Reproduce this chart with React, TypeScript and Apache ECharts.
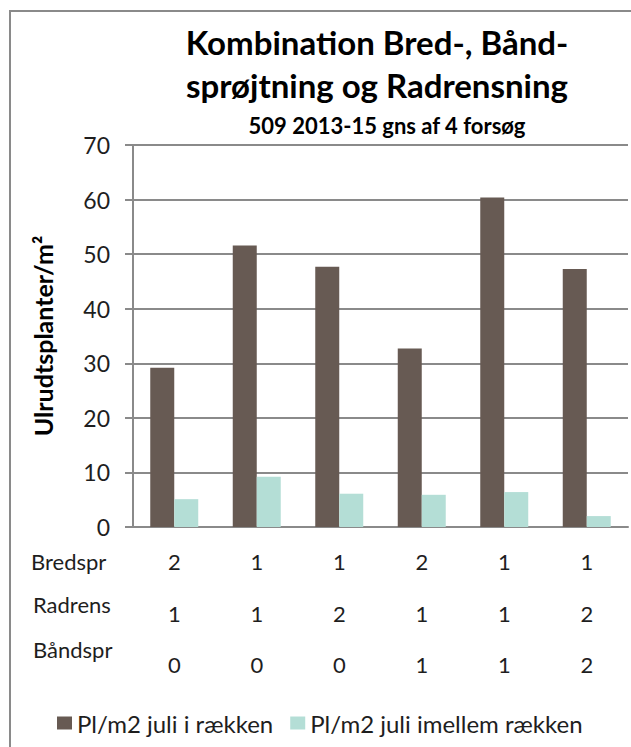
import React, { useEffect, useRef } from "react";
import * as echarts from "echarts";

// Treatment combinations (one column per trial treatment)
const bredspr = ["2", "1", "1", "2", "1", "1"];
const radrens = ["1", "1", "2", "1", "1", "2"];
const baandspr = ["0", "0", "0", "1", "1", "2"];
const rowLabels = ["Bredspr", "Radrens", "Båndspr"];

// Weeds per m² in July
const iRaekken = [29.2, 51.6, 47.7, 32.7, 60.4, 47.3];
const imellemRaekken = [5.1, 9.2, 6.1, 5.9, 6.4, 2.0];

const seriesNames = ["Pl/m2 juli i rækken", "Pl/m2 juli imellem rækken"];
const titleLines = ["Kombination Bred-, Bånd-", "sprøjtning og Radrensning"];
const subTitle = "509 2013-15 gns af 4 forsøg";
const yName = "Ulrudtsplanter/m²";

const FONT = "Lato, 'Open Sans', sans-serif";
const DARK = "#675a53";
const TEAL = "#b4ded6";
const GRID_COLOR = "#8a8a8a";
const TEXT = "#1e1e1e";

export default function App() {
  const ref = useRef<HTMLDivElement>(null);

  useEffect(() => {
    if (!ref.current) return;
    const chart = echarts.init(ref.current, undefined, { renderer: "svg" });
    const categories = bredspr.map((b, i) => `${b}\n${radrens[i]}\n${baandspr[i]}`);
    const rowPos = [
      { x: 31, y: 561 },
      { x: 33, y: 604 },
      { x: 33, y: 649 },
    ];
    const titleY = [42, 85];

    chart.setOption({
      animation: false,
      backgroundColor: "#ffffff",
      textStyle: { fontFamily: FONT },
      grid: { left: 133, right: 3, top: 145, bottom: 220, containLabel: false },
      legend: {
        top: 706,
        left: 52,
        itemWidth: 15,
        itemHeight: 13,
        itemGap: 17,
        icon: "rect",
        textStyle: { fontFamily: FONT, fontSize: 24, color: TEXT },
        data: seriesNames,
      },
      xAxis: {
        type: "category",
        data: categories,
        axisTick: { show: false },
        axisLine: { lineStyle: { color: GRID_COLOR, width: 2 } },
        axisLabel: {
          fontFamily: FONT,
          fontSize: 22,
          lineHeight: 51.5,
          color: TEXT,
          margin: 9,
          interval: 0,
        },
      },
      yAxis: {
        type: "value",
        min: 0,
        max: 70,
        interval: 10,
        name: yName,
        nameLocation: "middle",
        nameGap: 78,
        nameTextStyle: { fontFamily: FONT, fontSize: 25, fontWeight: "bold", color: "#000" },
        axisLine: { show: true, lineStyle: { color: GRID_COLOR, width: 2 } },
        axisTick: { show: true, length: 8, lineStyle: { color: GRID_COLOR, width: 2 } },
        axisLabel: { fontFamily: FONT, fontSize: 23, color: TEXT, margin: 23 },
        splitLine: { lineStyle: { color: GRID_COLOR, width: 2 } },
      },
      series: [
        {
          name: seriesNames[0],
          type: "bar",
          data: iRaekken,
          itemStyle: { color: DARK },
          barWidth: 24,
          barGap: "0%",
        },
        {
          name: seriesNames[1],
          type: "bar",
          data: imellemRaekken,
          itemStyle: { color: TEAL },
          barWidth: 24,
          barGap: "0%",
        },
      ],
      graphic: [
        {
          type: "rect",
          shape: { x: 10, y: 11, width: 660, height: 780 },
          style: { fill: "none", stroke: GRID_COLOR, lineWidth: 2 },
          silent: true,
        },
        ...titleLines.map((t, i) => ({
          type: "text",
          x: 377,
          y: titleY[i],
          style: {
            text: t,
            align: "center",
            verticalAlign: "middle",
            font: `bold 33px ${FONT}`,
            fill: "#000",
          },
        })),
        {
          type: "text",
          x: 387,
          y: 125,
          style: {
            text: subTitle,
            align: "center",
            verticalAlign: "middle",
            font: `bold 22px ${FONT}`,
            fill: "#000",
          },
        },
        ...rowLabels.map((t, i) => ({
          type: "text",
          x: rowPos[i].x,
          y: rowPos[i].y,
          style: {
            text: t,
            align: "left",
            verticalAlign: "middle",
            font: `22px ${FONT}`,
            fill: TEXT,
          },
        })),
      ],
    });

    return () => chart.dispose();
  }, []);

  return (
    <div
      ref={ref}
      style={{ position: "fixed", left: 0, top: 0, width: 631, height: 747 }}
    />
  );
}
